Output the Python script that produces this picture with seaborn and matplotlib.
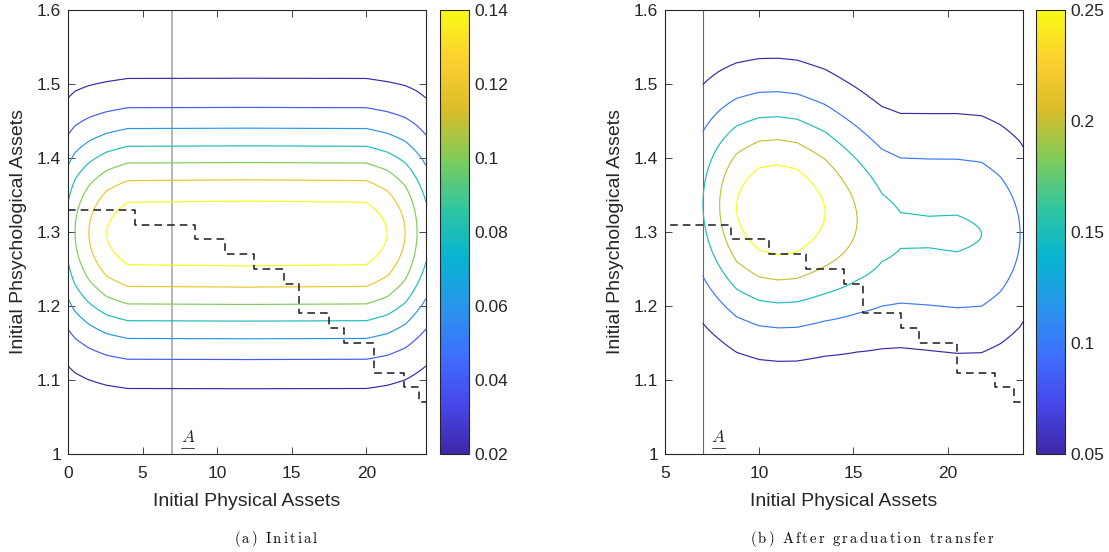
import numpy as np
import matplotlib
matplotlib.use("Agg")
import matplotlib.pyplot as plt
import seaborn as sns
from matplotlib.colors import LinearSegmentedColormap, Normalize
from matplotlib.cm import ScalarMappable
from matplotlib.lines import Line2D
from matplotlib.ticker import FormatStrFormatter

# ---------------- data ----------------
# Density ridge profiles: at each physical-asset value, the peak density,
# the psychological-asset value of the peak and the spread of the profile.
left_phys   = [0.0, 0.47, 1.4, 2.6, 4.0, 12.0, 20.0, 21.4, 22.6, 23.4, 24.0]
left_peak   = [0.086, 0.10, 0.12, 0.14, 0.152, 0.153, 0.152, 0.14, 0.12, 0.10, 0.086]
left_center = [1.300, 1.300, 1.299, 1.298, 1.298, 1.298, 1.298, 1.298, 1.299, 1.300, 1.300]
left_spread = [0.106, 0.106, 0.105, 0.104, 0.104, 0.104, 0.104, 0.104, 0.105, 0.106, 0.106]
left_levels = [0.02, 0.04, 0.06, 0.08, 0.10, 0.12, 0.14]

right_phys   = [7.0, 7.9, 8.8, 10.0, 11.0, 12.0, 13.5, 15.2, 16.5, 17.5, 19.0, 20.5, 21.8, 22.8, 23.85, 24.0]
right_peak   = [0.149, 0.20, 0.25, 0.285, 0.292, 0.285, 0.25, 0.20, 0.165, 0.154, 0.153, 0.154, 0.15, 0.13, 0.10, 0.093]
right_center = [1.338, 1.336, 1.333, 1.331, 1.330, 1.329, 1.326, 1.316, 1.306, 1.302, 1.300, 1.298, 1.297, 1.297, 1.297, 1.297]
right_spread = [0.109, 0.109, 0.109, 0.109, 0.109, 0.109, 0.108, 0.107, 0.106, 0.1055, 0.107, 0.108, 0.108, 0.107, 0.106, 0.106]
right_levels = [0.05, 0.10, 0.15, 0.20, 0.25]

# Threshold (step) policy
step_x = [0, 4.5, 8.5, 10.5, 12.5, 14.5, 15.5, 17.5, 18.5, 20.5, 22.5, 23.5, 24]
step_y = [1.33, 1.31, 1.29, 1.27, 1.25, 1.23, 1.19, 1.17, 1.15, 1.11, 1.09, 1.07, 1.07]
A_bar = 7

left_xlim, right_xlim = (0, 24), (5, 24)
left_xticks, right_xticks = [0, 5, 10, 15, 20], [5, 10, 15, 20]
yticks = [1.0, 1.1, 1.2, 1.3, 1.4, 1.5, 1.6]
left_cticks = [0.02, 0.04, 0.06, 0.08, 0.10, 0.12, 0.14]
right_cticks = [0.05, 0.10, 0.15, 0.20, 0.25]
xlabel = "Initial Physical Assets"
ylabel = "Initial Phsychological Assets"
captions = ["(a) Initial", "(b) After graduation transfer"]

# parula colormap anchors
parula_anchors = [
    (0.2422, 0.1504, 0.6603), (0.2803, 0.2782, 0.9221), (0.2440, 0.4358, 0.9988),
    (0.1540, 0.5902, 0.9218), (0.0297, 0.7082, 0.8163), (0.1938, 0.7758, 0.6251),
    (0.5044, 0.7993, 0.3480), (0.8634, 0.7406, 0.1596), (0.9892, 0.8136, 0.1885),
    (0.9769, 0.9839, 0.0805)]
parula = LinearSegmentedColormap.from_list("parula", parula_anchors, N=256)

# ---------------- style ----------------
sns.set_theme(style="white")
plt.rcParams["font.family"] = ["Liberation Sans", "DejaVu Sans"]
plt.rcParams["mathtext.fontset"] = "cm"
TXT = "#262626"

W, H = 1109, 552
fig = plt.figure(figsize=(W / 100, H / 100), dpi=100)

def fig_rect(x0, y0, x1, y1):
    return [x0 / W, (H - y1) / H, (x1 - x0) / W, (y1 - y0) / H]

ax1 = fig.add_axes(fig_rect(68, 10, 426, 454))
cax1 = fig.add_axes(fig_rect(440, 10, 469, 454))
ax2 = fig.add_axes(fig_rect(665, 10, 1023, 454))
cax2 = fig.add_axes(fig_rect(1036, 10, 1065, 454))


def density_field(phys, peak, center, spread, x0, x1):
    xs = np.linspace(x0, x1, 500)
    ys = np.linspace(1.0, 1.6, 500)
    X, Y = np.meshgrid(xs, ys)
    a = np.interp(xs, phys, peak)
    c = np.interp(xs, phys, center)
    s = np.interp(xs, phys, spread)
    Z = a[None, :] * np.exp(-((Y - c[None, :]) ** 2) / (2 * s[None, :] ** 2))
    return X, Y, Z


def panel(ax, cax, field, levels, cticks, xlim, xticks, vcolor, vlw):
    X, Y, Z = field
    norm = Normalize(vmin=levels[0], vmax=levels[-1])
    ax.contour(X, Y, Z, levels=levels, cmap=parula, norm=norm, linewidths=0.85)
    ax.axvline(A_bar, color=vcolor, lw=vlw, zorder=1)
    sns.lineplot(x=step_x, y=step_y, ax=ax, color="#1a1a1a", lw=1.1,
                 drawstyle="steps-post", linestyle="--", dashes=False, zorder=3)
    for ln in ax.get_lines()[-1:]:
        ln.set_dashes((5, 3.3))
    ax.set_xlim(*xlim)
    ax.set_ylim(1.0, 1.6)
    ax.set_xticks(xticks)
    ax.set_yticks(yticks)
    ax.yaxis.set_major_formatter(FormatStrFormatter("%g"))
    ax.xaxis.set_major_formatter(FormatStrFormatter("%g"))
    ax.tick_params(direction="in", length=5, width=0.6, colors=TXT,
                   labelsize=12.5, top=True, right=True, bottom=True, left=True)
    ax.tick_params(axis="x", pad=9)
    ax.tick_params(axis="y", pad=5)
    for sp in ax.spines.values():
        sp.set_color(TXT)
        sp.set_linewidth(0.8)
        sp.set_visible(True)
    ax.set_xlabel(xlabel, fontsize=14, color=TXT, labelpad=8)
    ax.set_ylabel(ylabel, fontsize=14, color=TXT, labelpad=7)
    ax.grid(False)
    ax.set_facecolor("white")

    sm = ScalarMappable(norm=norm, cmap=parula)
    cb = fig.colorbar(sm, cax=cax, ticks=cticks)
    cb.ax.yaxis.set_major_formatter(FormatStrFormatter("%g"))
    cb.ax.tick_params(direction="in", length=4, width=0.6, colors=TXT,
                      labelsize=12.5, right=True, left=False, pad=4)
    cb.outline.set_edgecolor(TXT)
    cb.outline.set_linewidth(0.8)

    t = ax.annotate("$A$", xy=(A_bar, 1.0), xytext=(6.0, 9.0),
                    textcoords="offset points", fontsize=12.5, color=TXT,
                    ha="left", va="baseline")
    return t


t1 = panel(ax1, cax1, density_field(left_phys, left_peak, left_center, left_spread, 0, 24),
           left_levels, left_cticks, left_xlim, left_xticks, "#a8a8a8", 1.2)
t2 = panel(ax2, cax2, density_field(right_phys, right_peak, right_center, right_spread, 7, 24),
           right_levels, right_cticks, right_xlim, right_xticks, "#6a6a6a", 0.8)


def spaced(txt):
    parts = []
    for ch in txt:
        parts.append(r"\ " if ch == " " else ch)
    return r"$\mathrm{" + r"\,".join(parts) + "}$"


fig.text(276 / W, (H - 539) / H, spaced(captions[0]), ha="center", va="center",
         fontsize=10.5, color="black")
fig.text(872 / W, (H - 539) / H, spaced(captions[1]), ha="center", va="center",
         fontsize=10.5, color="black")

# underline the A labels
fig.canvas.draw()
inv = fig.transFigure.inverted()
for t in (t1, t2):
    bb = t.get_window_extent()
    (xa, ya), (xb, _) = inv.transform([[bb.x0 + 0.5, bb.y0 - 3.0], [bb.x1 - 1.0, bb.y0]])
    fig.add_artist(Line2D([xa, xb], [ya, ya], color=TXT, lw=0.6))

fig.savefig("out.png", dpi=100, facecolor="white")
